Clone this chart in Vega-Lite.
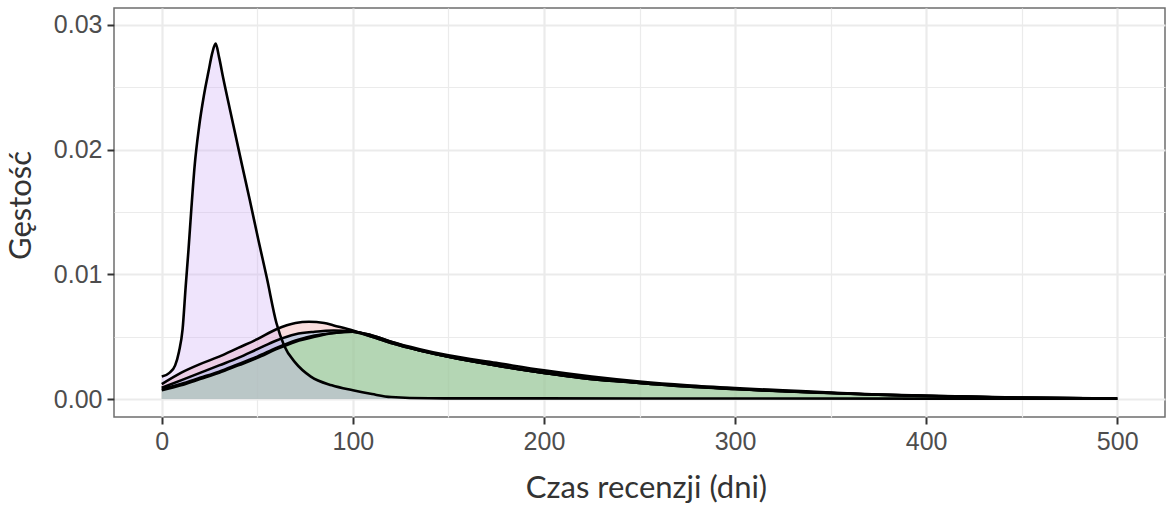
{
  "$schema": "https://vega.github.io/schema/vega-lite/v6.json",
  "width": 1051,
  "height": 409,
  "autosize": {"type": "none"},
  "padding": {"left": 114, "top": 8, "right": 2, "bottom": 91},
  "background": "white",
  "data": {
    "values": [
      {"grupa": "Grupa 1", "dni": 0, "gestosc": 0.0012},
      {"grupa": "Grupa 1", "dni": 10, "gestosc": 0.0021},
      {"grupa": "Grupa 1", "dni": 20, "gestosc": 0.0028},
      {"grupa": "Grupa 1", "dni": 30, "gestosc": 0.0034},
      {"grupa": "Grupa 1", "dni": 40, "gestosc": 0.0041},
      {"grupa": "Grupa 1", "dni": 50, "gestosc": 0.0048},
      {"grupa": "Grupa 1", "dni": 60, "gestosc": 0.0056},
      {"grupa": "Grupa 1", "dni": 70, "gestosc": 0.0061},
      {"grupa": "Grupa 1", "dni": 77, "gestosc": 0.0062},
      {"grupa": "Grupa 1", "dni": 85, "gestosc": 0.0061},
      {"grupa": "Grupa 1", "dni": 90, "gestosc": 0.0059},
      {"grupa": "Grupa 1", "dni": 100, "gestosc": 0.0055},
      {"grupa": "Grupa 1", "dni": 110, "gestosc": 0.005},
      {"grupa": "Grupa 1", "dni": 120, "gestosc": 0.0045},
      {"grupa": "Grupa 1", "dni": 135, "gestosc": 0.0039},
      {"grupa": "Grupa 1", "dni": 150, "gestosc": 0.0034},
      {"grupa": "Grupa 1", "dni": 175, "gestosc": 0.0027},
      {"grupa": "Grupa 1", "dni": 200, "gestosc": 0.0021},
      {"grupa": "Grupa 1", "dni": 225, "gestosc": 0.0016},
      {"grupa": "Grupa 1", "dni": 250, "gestosc": 0.0013},
      {"grupa": "Grupa 1", "dni": 275, "gestosc": 0.001},
      {"grupa": "Grupa 1", "dni": 300, "gestosc": 0.0008},
      {"grupa": "Grupa 1", "dni": 325, "gestosc": 0.00063},
      {"grupa": "Grupa 1", "dni": 350, "gestosc": 0.00048},
      {"grupa": "Grupa 1", "dni": 375, "gestosc": 0.00034},
      {"grupa": "Grupa 1", "dni": 400, "gestosc": 0.00025},
      {"grupa": "Grupa 1", "dni": 450, "gestosc": 0.0001},
      {"grupa": "Grupa 1", "dni": 500, "gestosc": 0.00003},

      {"grupa": "Grupa 2", "dni": 0, "gestosc": 0.0007},
      {"grupa": "Grupa 2", "dni": 10, "gestosc": 0.0011},
      {"grupa": "Grupa 2", "dni": 20, "gestosc": 0.0016},
      {"grupa": "Grupa 2", "dni": 30, "gestosc": 0.0021},
      {"grupa": "Grupa 2", "dni": 40, "gestosc": 0.0027},
      {"grupa": "Grupa 2", "dni": 50, "gestosc": 0.0033},
      {"grupa": "Grupa 2", "dni": 60, "gestosc": 0.004},
      {"grupa": "Grupa 2", "dni": 70, "gestosc": 0.0046},
      {"grupa": "Grupa 2", "dni": 80, "gestosc": 0.005},
      {"grupa": "Grupa 2", "dni": 90, "gestosc": 0.0053},
      {"grupa": "Grupa 2", "dni": 100, "gestosc": 0.0054},
      {"grupa": "Grupa 2", "dni": 110, "gestosc": 0.0051},
      {"grupa": "Grupa 2", "dni": 120, "gestosc": 0.0046},
      {"grupa": "Grupa 2", "dni": 135, "gestosc": 0.004},
      {"grupa": "Grupa 2", "dni": 150, "gestosc": 0.0035},
      {"grupa": "Grupa 2", "dni": 175, "gestosc": 0.0029},
      {"grupa": "Grupa 2", "dni": 200, "gestosc": 0.0023},
      {"grupa": "Grupa 2", "dni": 225, "gestosc": 0.0018},
      {"grupa": "Grupa 2", "dni": 250, "gestosc": 0.0014},
      {"grupa": "Grupa 2", "dni": 275, "gestosc": 0.0011},
      {"grupa": "Grupa 2", "dni": 300, "gestosc": 0.00088},
      {"grupa": "Grupa 2", "dni": 325, "gestosc": 0.0007},
      {"grupa": "Grupa 2", "dni": 350, "gestosc": 0.00052},
      {"grupa": "Grupa 2", "dni": 375, "gestosc": 0.00036},
      {"grupa": "Grupa 2", "dni": 400, "gestosc": 0.00027},
      {"grupa": "Grupa 2", "dni": 450, "gestosc": 0.00011},
      {"grupa": "Grupa 2", "dni": 500, "gestosc": 0.00003},

      {"grupa": "Grupa 3", "dni": 0, "gestosc": 0.0009},
      {"grupa": "Grupa 3", "dni": 10, "gestosc": 0.0015},
      {"grupa": "Grupa 3", "dni": 20, "gestosc": 0.0021},
      {"grupa": "Grupa 3", "dni": 30, "gestosc": 0.0027},
      {"grupa": "Grupa 3", "dni": 40, "gestosc": 0.0033},
      {"grupa": "Grupa 3", "dni": 50, "gestosc": 0.004},
      {"grupa": "Grupa 3", "dni": 60, "gestosc": 0.0047},
      {"grupa": "Grupa 3", "dni": 70, "gestosc": 0.0052},
      {"grupa": "Grupa 3", "dni": 80, "gestosc": 0.0054},
      {"grupa": "Grupa 3", "dni": 90, "gestosc": 0.0055},
      {"grupa": "Grupa 3", "dni": 100, "gestosc": 0.0054},
      {"grupa": "Grupa 3", "dni": 110, "gestosc": 0.005},
      {"grupa": "Grupa 3", "dni": 120, "gestosc": 0.0045},
      {"grupa": "Grupa 3", "dni": 135, "gestosc": 0.0039},
      {"grupa": "Grupa 3", "dni": 150, "gestosc": 0.0034},
      {"grupa": "Grupa 3", "dni": 175, "gestosc": 0.0027},
      {"grupa": "Grupa 3", "dni": 200, "gestosc": 0.0021},
      {"grupa": "Grupa 3", "dni": 225, "gestosc": 0.00165},
      {"grupa": "Grupa 3", "dni": 250, "gestosc": 0.0013},
      {"grupa": "Grupa 3", "dni": 275, "gestosc": 0.00105},
      {"grupa": "Grupa 3", "dni": 300, "gestosc": 0.0008},
      {"grupa": "Grupa 3", "dni": 325, "gestosc": 0.00064},
      {"grupa": "Grupa 3", "dni": 350, "gestosc": 0.00049},
      {"grupa": "Grupa 3", "dni": 375, "gestosc": 0.00035},
      {"grupa": "Grupa 3", "dni": 400, "gestosc": 0.00026},
      {"grupa": "Grupa 3", "dni": 450, "gestosc": 0.0001},
      {"grupa": "Grupa 3", "dni": 500, "gestosc": 0.00003},

      {"grupa": "Grupa 4", "dni": 0, "gestosc": 0.0008},
      {"grupa": "Grupa 4", "dni": 10, "gestosc": 0.0012},
      {"grupa": "Grupa 4", "dni": 20, "gestosc": 0.0017},
      {"grupa": "Grupa 4", "dni": 30, "gestosc": 0.0022},
      {"grupa": "Grupa 4", "dni": 40, "gestosc": 0.0028},
      {"grupa": "Grupa 4", "dni": 50, "gestosc": 0.0034},
      {"grupa": "Grupa 4", "dni": 60, "gestosc": 0.0041},
      {"grupa": "Grupa 4", "dni": 70, "gestosc": 0.0047},
      {"grupa": "Grupa 4", "dni": 80, "gestosc": 0.0051},
      {"grupa": "Grupa 4", "dni": 90, "gestosc": 0.0053},
      {"grupa": "Grupa 4", "dni": 100, "gestosc": 0.0054},
      {"grupa": "Grupa 4", "dni": 110, "gestosc": 0.0051},
      {"grupa": "Grupa 4", "dni": 120, "gestosc": 0.0046},
      {"grupa": "Grupa 4", "dni": 135, "gestosc": 0.0039},
      {"grupa": "Grupa 4", "dni": 150, "gestosc": 0.0034},
      {"grupa": "Grupa 4", "dni": 175, "gestosc": 0.0027},
      {"grupa": "Grupa 4", "dni": 200, "gestosc": 0.0021},
      {"grupa": "Grupa 4", "dni": 225, "gestosc": 0.0016},
      {"grupa": "Grupa 4", "dni": 250, "gestosc": 0.0013},
      {"grupa": "Grupa 4", "dni": 275, "gestosc": 0.001},
      {"grupa": "Grupa 4", "dni": 300, "gestosc": 0.0008},
      {"grupa": "Grupa 4", "dni": 325, "gestosc": 0.00062},
      {"grupa": "Grupa 4", "dni": 350, "gestosc": 0.00048},
      {"grupa": "Grupa 4", "dni": 375, "gestosc": 0.00034},
      {"grupa": "Grupa 4", "dni": 400, "gestosc": 0.00025},
      {"grupa": "Grupa 4", "dni": 450, "gestosc": 0.0001},
      {"grupa": "Grupa 4", "dni": 500, "gestosc": 0.00003},

      {"grupa": "Grupa 5", "dni": 0, "gestosc": 0.0018},
      {"grupa": "Grupa 5", "dni": 4, "gestosc": 0.0021},
      {"grupa": "Grupa 5", "dni": 7, "gestosc": 0.0027},
      {"grupa": "Grupa 5", "dni": 9, "gestosc": 0.0038},
      {"grupa": "Grupa 5", "dni": 10.9, "gestosc": 0.0056},
      {"grupa": "Grupa 5", "dni": 12.5, "gestosc": 0.009},
      {"grupa": "Grupa 5", "dni": 14, "gestosc": 0.012},
      {"grupa": "Grupa 5", "dni": 15.5, "gestosc": 0.0153},
      {"grupa": "Grupa 5", "dni": 17.2, "gestosc": 0.0187},
      {"grupa": "Grupa 5", "dni": 19.5, "gestosc": 0.0218},
      {"grupa": "Grupa 5", "dni": 22, "gestosc": 0.0243},
      {"grupa": "Grupa 5", "dni": 24.5, "gestosc": 0.0263},
      {"grupa": "Grupa 5", "dni": 26.5, "gestosc": 0.0278},
      {"grupa": "Grupa 5", "dni": 28.2, "gestosc": 0.0285},
      {"grupa": "Grupa 5", "dni": 30, "gestosc": 0.0274},
      {"grupa": "Grupa 5", "dni": 32.2, "gestosc": 0.0257},
      {"grupa": "Grupa 5", "dni": 35.7, "gestosc": 0.0232},
      {"grupa": "Grupa 5", "dni": 41.8, "gestosc": 0.0189},
      {"grupa": "Grupa 5", "dni": 46, "gestosc": 0.016},
      {"grupa": "Grupa 5", "dni": 50.5, "gestosc": 0.0128},
      {"grupa": "Grupa 5", "dni": 55, "gestosc": 0.0097},
      {"grupa": "Grupa 5", "dni": 60, "gestosc": 0.0061},
      {"grupa": "Grupa 5", "dni": 64, "gestosc": 0.0043},
      {"grupa": "Grupa 5", "dni": 70, "gestosc": 0.0029},
      {"grupa": "Grupa 5", "dni": 78, "gestosc": 0.0018},
      {"grupa": "Grupa 5", "dni": 89, "gestosc": 0.0011},
      {"grupa": "Grupa 5", "dni": 100, "gestosc": 0.0007},
      {"grupa": "Grupa 5", "dni": 110, "gestosc": 0.0004},
      {"grupa": "Grupa 5", "dni": 120, "gestosc": 0.00016},
      {"grupa": "Grupa 5", "dni": 140, "gestosc": 0.00006},
      {"grupa": "Grupa 5", "dni": 200, "gestosc": 0.00005},
      {"grupa": "Grupa 5", "dni": 300, "gestosc": 0.00004},
      {"grupa": "Grupa 5", "dni": 400, "gestosc": 0.00003},
      {"grupa": "Grupa 5", "dni": 500, "gestosc": 0.00002}
    ]
  },
  "encoding": {
    "x": {
      "field": "dni",
      "type": "quantitative",
      "title": "Czas recenzji (dni)",
      "scale": {"domain": [-25, 525], "nice": false, "zero": false},
      "axis": {
        "values": [0, 50, 100, 150, 200, 250, 300, 350, 400, 450, 500],
        "labelExpr": "datum.value % 100 === 0 ? datum.label : ''",
        "tickOpacity": {"condition": {"test": "datum.value % 100 !== 0", "value": 0}, "value": 1},
        "gridWidth": {"condition": {"test": "datum.value % 100 !== 0", "value": 1.2}, "value": 2.2},
        "titleX": 532,
        "titleY": 71,
        "titleBaseline": "middle"
      }
    },
    "y": {
      "field": "gestosc",
      "type": "quantitative",
      "title": "Gęstość",
      "stack": null,
      "scale": {"domain": [-0.00144, 0.03136], "nice": false, "zero": false},
      "axis": {
        "values": [0, 0.005, 0.01, 0.015, 0.02, 0.025, 0.03],
        "format": ".2f",
        "labelExpr": "round(datum.value * 1000) % 10 === 0 ? datum.label : ''",
        "tickOpacity": {"condition": {"test": "round(datum.value * 1000) % 10 !== 0", "value": 0}, "value": 1},
        "gridWidth": {"condition": {"test": "round(datum.value * 1000) % 10 !== 0", "value": 1.2}, "value": 2.2},
        "titleX": -93,
        "titleY": 197,
        "titleAngle": -90,
        "titleAlign": "center",
        "titleBaseline": "middle"
      }
    }
  },
  "layer": [
    {
      "mark": {"type": "area", "interpolate": "monotone", "fillOpacity": 0.3},
      "encoding": {
        "y2": {"datum": 0},
        "fill": {
          "field": "grupa",
          "type": "nominal",
          "legend": null,
          "scale": {
            "domain": ["Grupa 1", "Grupa 2", "Grupa 3", "Grupa 4", "Grupa 5"],
            "range": ["#ee9191", "#dede8a", "#5aaff0", "#92e472", "#caa5f5"]
          }
        }
      }
    },
    {
      "mark": {"type": "line", "interpolate": "monotone", "color": "black", "strokeWidth": 2.6},
      "encoding": {
        "detail": {"field": "grupa", "type": "nominal"}
      }
    }
  ],
  "config": {
    "view": {"stroke": "#6e6e6e", "strokeWidth": 1.5},
    "axis": {
      "domain": false,
      "gridColor": "#ebebeb",
      "tickColor": "#333333",
      "tickSize": 7,
      "tickWidth": 2,
      "labelFont": "Liberation Sans",
      "labelFontSize": 25,
      "labelColor": "#4d4d4d",
      "labelPadding": 5,
      "titleFont": "Lato",
      "titleFontSize": 31,
      "titleFontWeight": "normal",
      "titleColor": "#333333"
    }
  }
}
